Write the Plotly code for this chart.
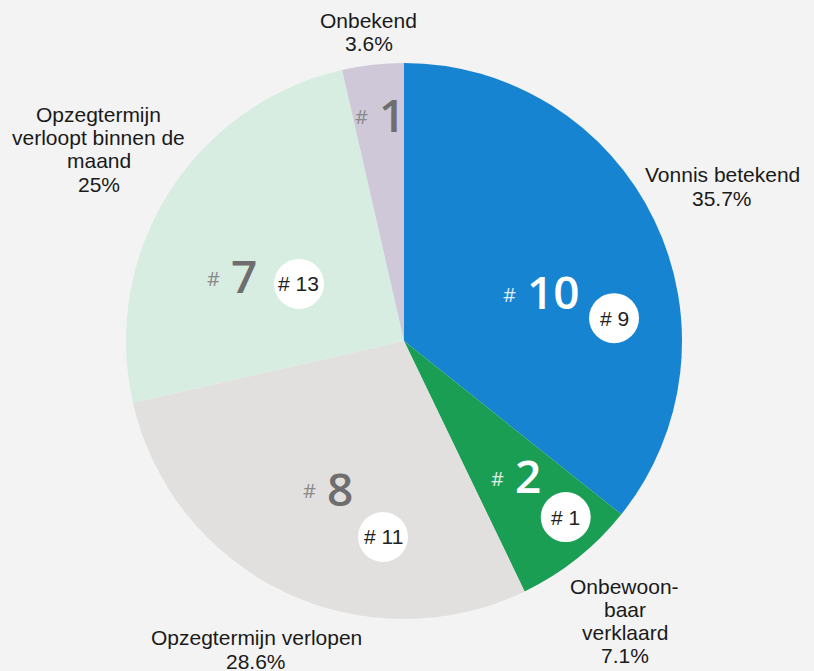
import math
import plotly.graph_objects as go

# ---- data ----
categories = ["Vonnis betekend", "Onbewoonbaar verklaard", "Opzegtermijn verlopen",
              "Opzegtermijn verloopt binnen de maand", "Onbekend"]
display_lines = [["Vonnis betekend"], ["Onbewoon-", "baar", "verklaard"], ["Opzegtermijn verlopen"],
                 ["Opzegtermijn", "verloopt binnen de", "maand"], ["Onbekend"]]
counts = [10, 2, 8, 7, 1]
compare_counts = [9, 1, 11, 13, None]

colors = ["#1784d2", "#1a9e54", "#e2e0de", "#d8ede2", "#cfc8d8"]
num_colors = ["#ffffff", "#ffffff", "#6e6e6e", "#6e6e6e", "#6e6e6e"]
hash_colors = ["rgba(255,255,255,0.85)", "rgba(255,255,255,0.85)", "#8a8a8a", "#8a8a8a", "#8a8a8a"]

W, H = 814, 671
CX, CY, R = 404, 341, 278
LINE_H = 23.3

total = sum(counts)
mids = []
cum = 0
for c in counts:
    mids.append((cum + c / 2) / total * 360)
    cum += c
pcts = [c / total * 100 for c in counts]


def polar(angle_deg, dist, dx=0, dy=0):
    a = math.radians(angle_deg)
    x = CX + dist * math.sin(a) + dx
    y = CY - dist * math.cos(a) + dy
    return x / W, 1 - y / H


fig = go.Figure(go.Pie(
    labels=categories, values=counts, sort=False, direction="clockwise", rotation=0,
    marker=dict(colors=colors, line=dict(width=0)),
    textinfo="none", hoverinfo="skip", showlegend=False,
    domain=dict(x=[(CX - R) / W, (CX + R) / W], y=[(H - CY - R) / H, (H - CY + R) / H]),
))

annotations = []
shapes = []

# placement tweaks (angle delta from slice mid, distance as fraction of radius)
num_place = [(3.4, 0.470), (-0.5, 0.621), (2.6, 0.600), (-11.5, 0.672), (-0.4, 0.824)]
circ_place = [(19.5, 0.760), (-4.0, 0.860), (-19.6, 0.709), (-3.6, 0.430), None]
out_place = [(-0.2, 1.272), (0.3, 1.283), (-0.1, 1.231), (0.0, 1.296), (-0.1, 1.119)]

for i, c in enumerate(counts):
    d_ang, frac = num_place[i]
    x, y = polar(mids[i] + d_ang, frac * R)
    annotations.append(dict(x=x, y=y, xref="paper", yref="paper", xanchor="left", yanchor="middle",
                            text=str(c), showarrow=False,
                            font=dict(family="Open Sans", size=46, color=num_colors[i], weight=600)))
    xh, yh = polar(mids[i] + d_ang, frac * R, dx=-7, dy=3)
    annotations.append(dict(x=xh, y=yh, xref="paper", yref="paper", xanchor="right", yanchor="middle",
                            text="#", showarrow=False,
                            font=dict(family="Open Sans", size=20, color=hash_colors[i])))
    if compare_counts[i] is not None:
        d_ang, frac = circ_place[i]
        x, y = polar(mids[i] + d_ang, frac * R)
        shapes.append(dict(type="circle", xref="paper", yref="paper", xsizemode="pixel", ysizemode="pixel",
                           xanchor=x, yanchor=y, x0=-25, x1=25, y0=-25, y1=25,
                           fillcolor="white", line=dict(width=0), layer="above"))
        annotations.append(dict(x=x, y=y, xref="paper", yref="paper", xanchor="center", yanchor="middle",
                                text=f"# {compare_counts[i]}", showarrow=False,
                                font=dict(family="Liberation Sans", size=21, color="#222222")))
    d_ang, frac = out_place[i]
    pct = f"{pcts[i]:.1f}".rstrip("0").rstrip(".")
    lines = display_lines[i] + [f"{pct}%"]
    n = len(lines)
    for k, ln in enumerate(lines):
        x, y = polar(mids[i] + d_ang, frac * R, dy=(k - (n - 1) / 2) * LINE_H)
        annotations.append(dict(x=x, y=y, xref="paper", yref="paper", xanchor="center", yanchor="middle",
                                text=ln, showarrow=False,
                                font=dict(family="Liberation Sans", size=21, color="#1a1a1a")))

fig.update_layout(
    width=W, height=H, margin=dict(l=0, r=0, t=0, b=0),
    paper_bgcolor="#f3f3f3", plot_bgcolor="#f3f3f3",
    annotations=annotations, shapes=shapes,
)

fig.write_html("out.html", config={"displayModeBar": False},
               post_script="document.body.style.margin='0';document.body.style.overflow='hidden';")
